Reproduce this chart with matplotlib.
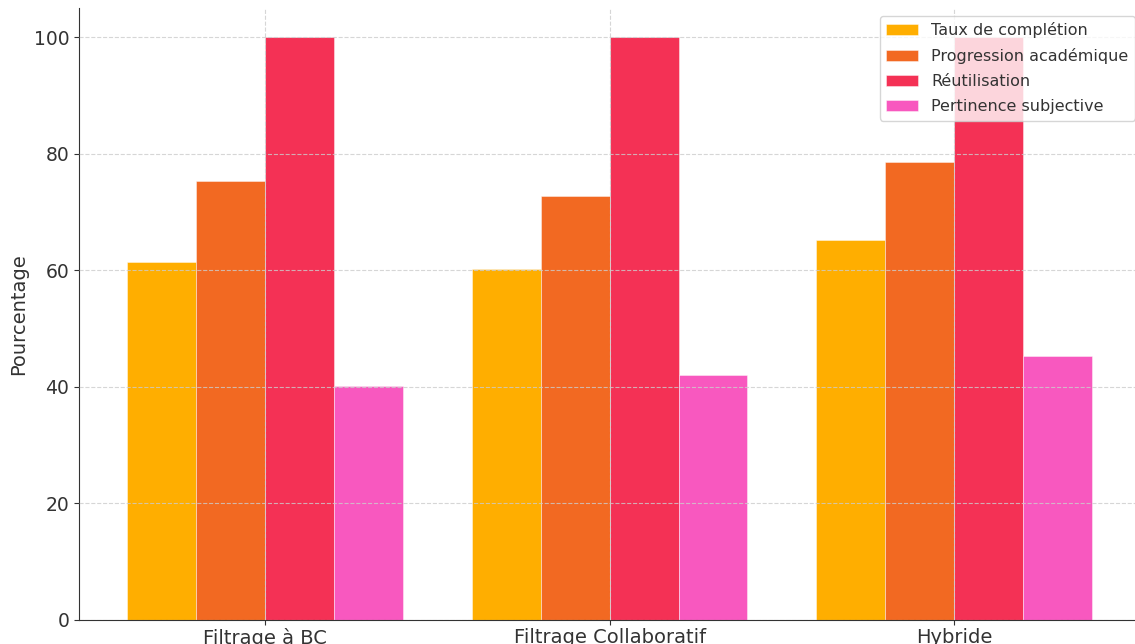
import numpy as np
import matplotlib
matplotlib.use("Agg")
import matplotlib.pyplot as plt

# données
methodes = ["Filtrage à BC", "Filtrage Collaboratif", "Hybride"]
criteres = ["Taux de complétion", "Progression académique", "Réutilisation", "Pertinence subjective"]
taux_completion = [61.4, 60.2, 65.2]
progression = [75.3, 72.7, 78.6]
reutilisation = [100, 100, 100]
pertinence = [40.1, 42.0, 45.3]
couleurs = ["#FFAE00", "#F26922", "#F43155", "#F858BF"]

series = [taux_completion, progression, reutilisation, pertinence]

fig = plt.figure(figsize=(11.35, 6.44), dpi=100)
ax = fig.add_axes([0.0696, 0.0373, 0.935, 0.950])

x = np.arange(len(methodes))
largeur = 0.2
for i, (valeurs, nom) in enumerate(zip(series, criteres)):
    ax.bar(x + (i - 1.5) * largeur, valeurs, largeur, label=nom,
           color=couleurs[i], edgecolor=(1, 1, 1, 0.5), linewidth=0.6)

ax.set_xticks(x)
ax.set_xticklabels(methodes, fontsize=14, color="#333333")
ax.tick_params(axis="x", pad=2.5)
ax.tick_params(axis="y", labelsize=13.5, labelcolor="#333333")
ax.tick_params(colors="#333333")
ax.set_ylabel("Pourcentage", fontsize=14, color="#333333")
ax.set_ylim(0, 105)

ax.set_axisbelow(False)
ax.grid(True, linestyle="--", color="#cccccc", linewidth=0.8, alpha=0.8)
ax.spines["top"].set_visible(False)
ax.spines["right"].set_visible(False)
ax.spines["left"].set_color("#333333")
ax.spines["bottom"].set_color("#333333")

leg = ax.legend(loc="upper left", bbox_to_anchor=(0.7753, 0.975),
                bbox_transform=fig.transFigure, borderaxespad=0,
                fontsize=11.5, labelspacing=0.62, frameon=True)
for t in leg.get_texts():
    t.set_color("#333333")

fig.savefig("out.png", dpi=100)
